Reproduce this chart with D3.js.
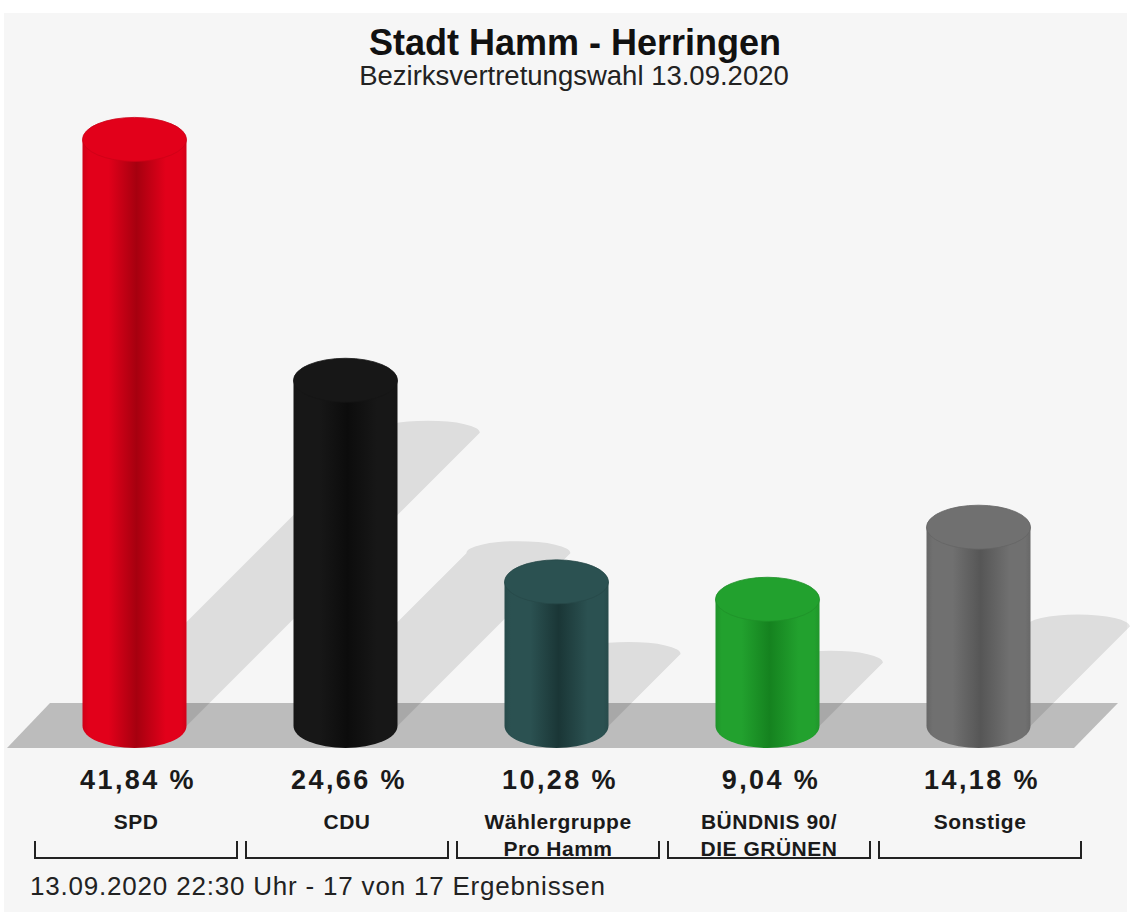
<!DOCTYPE html>
<html><head><meta charset="utf-8">
<script src="https://cdn.jsdelivr.net/npm/d3@7"></script>
<style>html,body{margin:0;padding:0;background:#fff;}svg{display:block;}</style>
</head><body>
<script>
const title = "Stadt Hamm - Herringen";
const subtitle = "Bezirksvertretungswahl 13.09.2020";
const footer = "13.09.2020 22:30 Uhr - 17 von 17 Ergebnissen";
const parties = ["SPD", "CDU", "Wählergruppe Pro Hamm", "BÜNDNIS 90/DIE GRÜNEN", "Sonstige"];
const labelLines = [["SPD"], ["CDU"], ["Wählergruppe", "Pro Hamm"], ["BÜNDNIS 90/", "DIE GRÜNEN"], ["Sonstige"]];
const values = [41.84, 24.66, 10.28, 9.04, 14.18];
const colors = ["#e2001a", "#171717", "#2b5151", "#22a12e", "#707070"];
const darkColors = ["#a6000f", "#0c0c0c", "#1a3636", "#15821f", "#565656"];

const W = 1130, H = 914;
const svg = d3.select("body").append("svg").attr("width", W).attr("height", H);
const font = "'Liberation Sans', Arial, Helvetica, sans-serif";

svg.append("rect").attr("x", 4).attr("y", 13).attr("width", 1123).attr("height", 899).attr("fill", "#f6f6f6");

const x = d3.scaleBand().domain(parties).range([30.5, 1085.5]).paddingInner(9 / 211).paddingOuter(4.5 / 211);
const base = 726;
const y = d3.scaleLinear().domain([0, 45]).range([base, base - 45 * 14.02]);
const r = 52, ry = 22;

const data = parties.map((p, i) => ({p, v: values[i], c: colors[i], d: darkColors[i], lines: labelLines[i], i}));
const cxOf = d => x(d.p) + x.bandwidth() / 2 - 1.5;

// gradients
const defs = svg.append("defs");
data.forEach(d => {
  const g = defs.append("linearGradient").attr("id", "g" + d.i).attr("x1", "0").attr("x2", "1").attr("y1", "0").attr("y2", "0");
  const c = d3.color(d.c);
  g.append("stop").attr("offset", "0").attr("stop-color", c.darker(0.25));
  g.append("stop").attr("offset", "0.06").attr("stop-color", c);
  g.append("stop").attr("offset", "0.25").attr("stop-color", c);
  g.append("stop").attr("offset", "0.52").attr("stop-color", d.d);
  g.append("stop").attr("offset", "0.8").attr("stop-color", c);
  g.append("stop").attr("offset", "0.95").attr("stop-color", c);
  g.append("stop").attr("offset", "1").attr("stop-color", c.darker(0.2));
});

// floor
const floorTop = 703, floorBot = 748;
svg.append("path")
  .attr("d", `M7,${floorBot} L50,${floorTop} L1118,${floorTop} L1074,${floorBot} Z`)
  .attr("fill", "#bcbcbc");

// shadows
svg.append("g").selectAll("path").data(data).join("path")
  .attr("d", d => {
    const cx = cxOf(d), L = (base - y(d.v)) * 0.5;
    return `M${cx - r},${base} L${cx - r + L},${base - L} A${r},12 0 0 1 ${cx + r + L},${base - L} L${cx + r},${base} Z`;
  })
  .attr("fill", "#000").attr("fill-opacity", 0.1);

// cylinders
const cyl = svg.append("g").selectAll("g").data(data).join("g");
cyl.append("path")
  .attr("d", d => {
    const cx = cxOf(d), t = y(d.v);
    return `M${cx - r},${t} V${base} A${r},${ry} 0 0 0 ${cx + r},${base} V${t} Z`;
  })
  .attr("fill", d => `url(#g${d.i})`);
cyl.append("ellipse")
  .attr("cx", cxOf).attr("cy", d => y(d.v)).attr("rx", r).attr("ry", ry)
  .attr("fill", d => d.c)
  .attr("stroke", d => d3.color(d.c).darker(0.3)).attr("stroke-width", 0.8);

// title
svg.append("text").attr("x", 575).attr("y", 55).attr("text-anchor", "middle")
  .attr("font-family", font).attr("font-weight", "bold").attr("font-size", 36).attr("fill", "#111").text(title);
svg.append("text").attr("x", 574).attr("y", 85).attr("text-anchor", "middle")
  .attr("font-family", font).attr("font-size", 27.5).attr("fill", "#222").text(subtitle);

// values
const fmt = v => d3.format(".2f")(v).replace(".", ",") + " %";
svg.append("g").selectAll("text").data(data).join("text")
  .attr("x", d => x(d.p) + x.bandwidth() / 2 + 2).attr("y", 789).attr("text-anchor", "middle")
  .attr("font-family", font).attr("font-weight", "bold").attr("font-size", 27).attr("letter-spacing", 2.4)
  .attr("fill", "#1a1a1a").text(d => fmt(d.v));

// labels
const lab = svg.append("g").selectAll("text").data(data).join("text")
  .attr("text-anchor", "middle").attr("font-family", font).attr("font-weight", "bold").attr("font-size", 21)
  .attr("letter-spacing", 0.5).attr("fill", "#1a1a1a");
lab.selectAll("tspan").data(d => d.lines.map((l, k) => ({l, k, cx: x(d.p) + x.bandwidth() / 2}))).join("tspan")
  .attr("x", t => t.cx).attr("y", t => 829 + t.k * 27).text(t => t.l);

// brackets
svg.append("g").selectAll("path").data(data).join("path")
  .attr("d", d => { const x0 = x(d.p), x1 = x(d.p) + x.bandwidth(); return `M${x0},841 V858 H${x1} V841`; })
  .attr("fill", "none").attr("stroke", "#222").attr("stroke-width", 2);

// footer
svg.append("text").attr("x", 30).attr("y", 895).attr("font-family", font).attr("font-size", 26)
  .attr("letter-spacing", 0.8).attr("fill", "#222").text(footer);
</script>
</body></html>
